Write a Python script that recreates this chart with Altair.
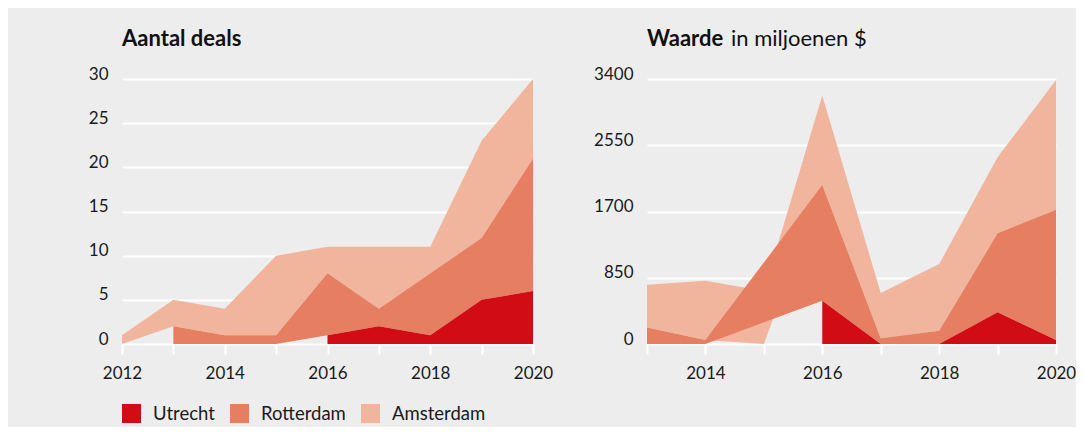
import altair as alt
import pandas as pd

# ---- data ----
cities = ["Utrecht", "Rotterdam", "Amsterdam"]
colors = ["#d20c15", "#e67e61", "#f1b59d"]

years_deals = [2012, 2013, 2014, 2015, 2016, 2017, 2018, 2019, 2020]
utrecht_deals = [None, None, None, None, 1, 2, 1, 5, 6]
rotterdam_deals = [None, 2, 1, 1, 7, 2, 7, 7, 15]
amsterdam_deals = [1, 3, 3, 9, 3, 7, 3, 11, 9]

years_value = [2013, 2014, 2015, 2016, 2017, 2018, 2019, 2020]
utrecht_value = [None, None, None, 556, 0, 0, 406, 51]
rotterdam_value = [213, 50, None, 1484, 73, 171, 1014, 1673]
amsterdam_value = [548, 762, 680, 1147, 581, 855, 975, 1663]

deals_ticks = [0, 5, 10, 15, 20, 25, 30]
value_ticks = [0, 850, 1700, 2550, 3400]

FONT = "Lato"
TXT = "#1a1a1a"


def stack_rows(years, series):
    rows = []
    for i, yr in enumerate(years):
        base = 0
        for city, vals in zip(cities, series):
            v = vals[i]
            if v is not None:
                rows.append(dict(year=yr, city=city, lo=base, hi=base + v))
                base += v
    return pd.DataFrame(rows)


deals_df = stack_rows(years_deals, [utrecht_deals, rotterdam_deals, amsterdam_deals])
value_df = stack_rows(years_value, [utrecht_value, rotterdam_value, amsterdam_value])

legend = alt.Legend(
    orient="none", legendX=0, legendY=325, direction="horizontal",
    title=None, symbolType="square", symbolSize=361, symbolStrokeWidth=0,
    symbolOpacity=1, labelFont=FONT, labelFontSize=18.5, labelColor=TXT,
    labelOffset=12, columnPadding=15, padding=0,
)
color = alt.Color("city:N", scale=alt.Scale(domain=cities, range=colors), legend=legend)


def panel(df, xdom, xvals, ydom, yvals, width, titles):
    x = alt.X(
        "year:Q",
        scale=alt.Scale(domain=xdom, nice=False, zero=False),
        axis=alt.Axis(
            values=xvals, format="d",
            labelExpr="datum.value % 2 == 0 ? datum.label : ''",
            grid=False, ticks=True, tickSize=10, tickColor="white", tickWidth=2,
            labelPadding=11, labelFlush=False, labelOverlap=False, domain=False,
            title=None,
        ),
    )
    y = alt.Y(
        "hi:Q",
        scale=alt.Scale(domain=ydom, nice=False),
        axis=alt.Axis(
            values=yvals, format="d", grid=True, gridColor="white", gridWidth=2,
            ticks=False, domain=False, labelPadding=14,
            labelBaseline="alphabetic", title=None,
        ),
    )
    layers = []
    for c in ["Amsterdam", "Rotterdam", "Utrecht"]:
        layers.append(
            alt.Chart(df)
            .transform_filter(alt.datum.city == c)
            .mark_area(interpolate="linear", opacity=1)
            .encode(x=x, y=y, y2="lo:Q", color=color)
        )
    for text, xoff, weight in titles:
        layers.append(
            alt.Chart(pd.DataFrame({"t": [text]}))
            .mark_text(align="left", baseline="alphabetic", font=FONT,
                       fontSize=22, fontWeight=weight, color="#111111")
            .encode(x=alt.value(xoff), y=alt.value(-33), text="t:N")
        )
    return alt.layer(*layers).properties(width=width, height=265)


left = panel(deals_df, [2012, 2020], years_deals, [0, 30], deals_ticks, 411,
             [("Aantal deals", 0, "bold")])
right = panel(value_df, [2013, 2020], years_value, [0, 3400], value_ticks, 409,
              [("Waarde", 0, "bold"), ("in miljoenen $", 84, "normal")])

chart = (
    alt.hconcat(left, right, spacing=114, bounds="flush")
    .properties(background="#ededed",
                padding={"left": 80, "top": 20, "right": 0, "bottom": 4})
    .configure_view(stroke=None)
    .configure_axis(labelFont=FONT, labelFontSize=17, labelColor=TXT)
)

chart.save("out.html", embed_options={"renderer": "svg", "actions": False})
